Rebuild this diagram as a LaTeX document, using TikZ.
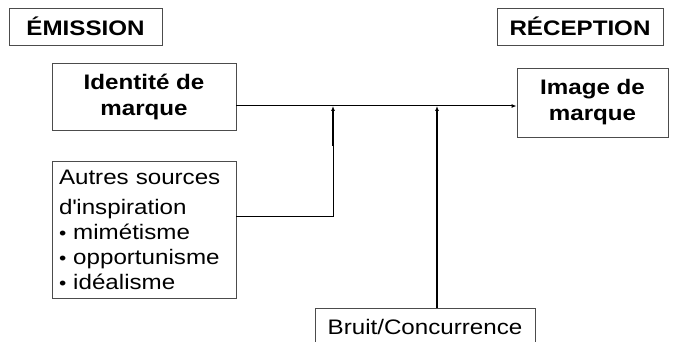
\documentclass[tikz,border=0pt]{standalone}
\usepackage{fontspec}
\setmainfont[FakeStretch=1.15]{Liberation Sans}
\usepackage{tikz}
\usetikzlibrary{arrows.meta}
\newcommand{\smallbullet}{{\fontsize{18}{18}\selectfont\textbullet}}

\begin{document}
\begin{tikzpicture}[x=1pt, y=-1pt,
  tbox/.style={draw=black!70, line width=0.9pt, inner sep=0pt,
               font=\fontsize{21}{26}\selectfont\bfseries, align=center},
  pbox/.style={draw=black!70, line width=0.9pt, inner sep=0pt,
               font=\fontsize{21}{26}\selectfont, align=center},
  link/.style={line width=1pt},
  arr/.style={-{Latex[length=5pt,width=4pt]}, line width=1.4pt},
]
\useasboundingbox[fill=white] (0,0) rectangle (677,342);

%% ---- Column headers
\node[tbox, minimum width=153, minimum height=37] (emission)  at (85.5,26.5) {ÉMISSION};
\node[tbox, minimum width=166, minimum height=37] (reception) at (580,26.5)  {RÉCEPTION};

%% ---- Sender / receiver
\node[tbox, minimum width=184, minimum height=67] (identite) at (144,96.5)  {Identité de\\marque};
\node[tbox, minimum width=151, minimum height=69] (image)    at (592.5,102.5) {Image de\\marque};

%% ---- Influences
\node[pbox, align=left, text width=170, minimum height=137, inner xsep=7pt,
      font=\fontsize{21}{25}\selectfont] (autres) at (144,229.5)
  {Autres sources\\[5pt]d\textquotesingle inspiration\\\smallbullet{} mimétisme\\\smallbullet{} opportunisme\\\smallbullet{} idéalisme};
\node[pbox, minimum width=220, minimum height=37] (bruit) at (425,326.5) {Bruit/Concurrence};

%% ---- Junctions on the main line
\coordinate (j1) at (333,106);
\coordinate (j2) at (437,106);

\draw[link, -{Latex[length=5pt,width=4pt]}] (identite.east |- j1) -- (image.west |- j1);
\draw[link] ([yshift=13.5]autres.east) -| ([yshift=-40]j1);
\draw[arr] ([yshift=-40]j1) -- (j1);
\draw[arr] (bruit.north -| j2) -- (j2);

\end{tikzpicture}
\end{document}
